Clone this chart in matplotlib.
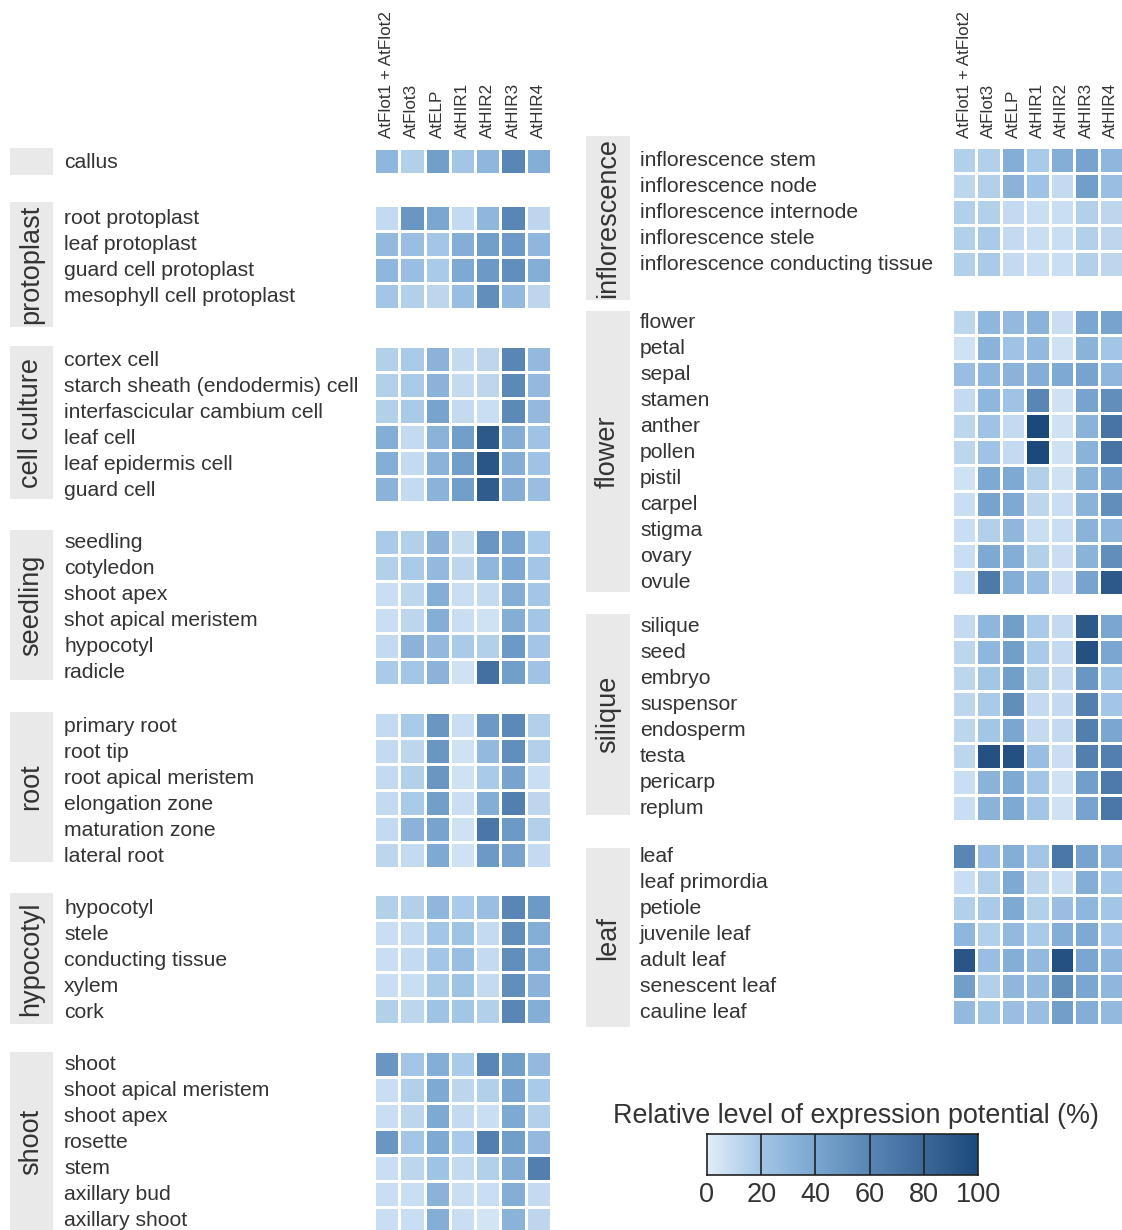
import matplotlib
matplotlib.use("Agg")
import matplotlib.pyplot as plt
import numpy as np
from matplotlib.colors import LinearSegmentedColormap
from matplotlib.patches import Rectangle
import matplotlib.transforms as mtransforms

plt.rcParams['font.family'] = ['Liberation Sans', 'DejaVu Sans']

genes = ["AtFlot1 + AtFlot2", "AtFlot3", "AtELP", "AtHIR1", "AtHIR2", "AtHIR3", "AtHIR4"]

# ---- left panel data ----
callus_rows = ["callus"]
callus_vals = [[30, 15, 45, 20, 30, 60, 35]]

protoplast_rows = ["root protoplast", "leaf protoplast", "guard cell protoplast", "mesophyll cell protoplast"]
protoplast_vals = [[10, 50, 40, 10, 30, 60, 12],
                   [28, 25, 20, 35, 45, 48, 30],
                   [30, 25, 18, 38, 48, 55, 35],
                   [20, 15, 12, 25, 55, 28, 12]]

cellculture_rows = ["cortex cell", "starch sheath (endodermis) cell", "interfascicular cambium cell",
                    "leaf cell", "leaf epidermis cell", "guard cell"]
cellculture_vals = [[15, 18, 32, 10, 12, 60, 28],
                    [15, 18, 32, 10, 12, 58, 28],
                    [15, 18, 42, 10, 8, 58, 28],
                    [35, 10, 32, 45, 90, 35, 22],
                    [35, 10, 32, 45, 92, 35, 22],
                    [32, 10, 32, 45, 88, 35, 25]]

seedling_rows = ["seedling", "cotyledon", "shoot apex", "shot apical meristem", "hypocotyl", "radicle"]
seedling_vals = [[18, 15, 32, 10, 50, 40, 18],
                 [15, 18, 28, 12, 30, 38, 20],
                 [8, 12, 35, 8, 10, 35, 20],
                 [8, 12, 35, 8, 6, 35, 20],
                 [10, 32, 28, 18, 15, 48, 20],
                 [18, 20, 32, 6, 75, 45, 22]]

root_rows = ["primary root", "root tip", "root apical meristem", "elongation zone", "maturation zone", "lateral root"]
root_vals = [[10, 18, 50, 8, 48, 58, 15],
             [10, 12, 50, 6, 28, 55, 15],
             [10, 15, 50, 6, 18, 42, 8],
             [10, 18, 45, 8, 35, 65, 12],
             [10, 32, 42, 6, 70, 48, 15],
             [12, 10, 38, 6, 48, 42, 10]]

hypocotyl_rows = ["hypocotyl", "stele", "conducting tissue", "xylem", "cork"]
hypocotyl_vals = [[15, 15, 30, 18, 25, 60, 48],
                  [8, 10, 20, 22, 10, 55, 35],
                  [8, 10, 20, 25, 10, 55, 35],
                  [8, 8, 18, 22, 10, 55, 32],
                  [15, 12, 22, 20, 15, 60, 35]]

shoot_rows = ["shoot", "shoot apical meristem", "shoot apex", "rosette", "stem", "axillary bud", "axillary shoot"]
shoot_vals = [[50, 20, 35, 18, 60, 45, 28],
              [8, 15, 38, 12, 15, 40, 18],
              [8, 12, 38, 10, 8, 38, 15],
              [50, 20, 38, 18, 65, 45, 28],
              [8, 12, 22, 10, 15, 35, 65],
              [8, 8, 32, 8, 8, 35, 10],
              [8, 8, 35, 8, 5, 32, 12]]

# ---- right panel data ----
inflor_rows = ["inflorescence stem", "inflorescence node", "inflorescence internode",
               "inflorescence stele", "inflorescence conducting tissue"]
inflor_vals = [[15, 15, 35, 18, 35, 42, 30],
               [12, 15, 32, 22, 10, 45, 25],
               [15, 15, 10, 8, 8, 15, 12],
               [15, 18, 10, 8, 8, 15, 12],
               [15, 18, 10, 8, 8, 15, 12]]

flower_rows = ["flower", "petal", "sepal", "stamen", "anther", "pollen", "pistil", "carpel",
               "stigma", "ovary", "ovule"]
flower_vals = [[12, 30, 28, 32, 8, 40, 42],
               [6, 32, 22, 28, 6, 32, 20],
               [25, 30, 32, 35, 38, 42, 30],
               [10, 30, 22, 60, 6, 42, 55],
               [12, 22, 10, 100, 6, 32, 72],
               [12, 22, 10, 100, 6, 32, 72],
               [6, 38, 38, 15, 6, 32, 42],
               [8, 42, 38, 12, 8, 32, 55],
               [8, 15, 30, 8, 8, 32, 30],
               [8, 38, 35, 15, 8, 32, 55],
               [8, 68, 35, 25, 8, 42, 90]]

silique_rows = ["silique", "seed", "embryo", "suspensor", "endosperm", "testa", "pericarp", "replum"]
silique_vals = [[10, 30, 45, 18, 10, 90, 40],
                [12, 30, 45, 18, 10, 95, 40],
                [12, 20, 45, 15, 10, 50, 22],
                [12, 18, 55, 10, 10, 65, 20],
                [12, 20, 40, 10, 10, 65, 40],
                [12, 95, 95, 25, 8, 65, 65],
                [8, 32, 38, 20, 6, 45, 68],
                [8, 32, 38, 20, 6, 42, 70]]

leaf_rows = ["leaf", "leaf primordia", "petiole", "juvenile leaf", "adult leaf", "senescent leaf", "cauline leaf"]
leaf_vals = [[60, 25, 35, 20, 70, 42, 30],
             [8, 15, 38, 12, 8, 35, 20],
             [15, 18, 38, 15, 25, 30, 20],
             [30, 15, 28, 18, 35, 38, 20],
             [92, 25, 35, 28, 95, 40, 30],
             [45, 15, 30, 28, 55, 40, 30],
             [28, 20, 25, 25, 45, 35, 28]]

legend_ticks = [0, 20, 40, 60, 80, 100]

cmap = LinearSegmentedColormap.from_list(
    "expr", [(0.0, "#e2eef9"), (0.2, "#a3c6e6"), (0.4, "#7aa6d1"),
             (0.6, "#5a86b5"), (0.8, "#3d6999"), (1.0, "#1c497b")])

W, H = 1122, 1230
fig = plt.figure(figsize=(W / 100, H / 100), dpi=100)
TXT = "#333333"


def fx(px):
    return px / W


def fy(py):
    return 1 - py / H


def draw_group(rows, vals, x0, x1, top, rowh, label_x, box, group_label, header=False):
    n = len(rows)
    ax = fig.add_axes([fx(x0), fy(top + n * rowh), fx(x1) - fx(x0), n * rowh / H])
    data = np.array(vals, dtype=float)
    ax.pcolormesh(np.arange(8), np.arange(n + 1), data, cmap=cmap, vmin=0, vmax=100,
                  edgecolors="white", linewidth=1.8)
    ax.set_xlim(0, 7)
    ax.set_ylim(n, 0)
    ax.axis("off")
    tr = mtransforms.blended_transform_factory(fig.transFigure, ax.transData)
    tr = mtransforms.offset_copy(tr, fig=fig, y=-1, units="dots")
    for i, r in enumerate(rows):
        ax.text(fx(label_x), i + 0.5, r, transform=tr, ha="left", va="center",
                fontsize=15.2, color=TXT)
    bx0, bx1, by0, by1 = box
    fig.patches.append(Rectangle((fx(bx0), fy(by1)), fx(bx1) - fx(bx0), (by1 - by0) / H,
                                 transform=fig.transFigure, facecolor="#e9e9e9",
                                 edgecolor="none", zorder=0))
    if group_label:
        fig.text(fx((bx0 + bx1) / 2), fy((by0 + by1) / 2), group_label, rotation=90,
                 ha="center", va="center", fontsize=19.5, color=TXT)
    if header:
        trh = mtransforms.blended_transform_factory(ax.transData, fig.transFigure)
        for j, g in enumerate(genes):
            ax.text(j + 0.5, fy(138), g, transform=trh, rotation=90, ha="center",
                    va="bottom", fontsize=12.3, color=TXT)
    return ax


LX0, LX1 = 374, 551
RX0, RX1 = 952, 1123

draw_group(callus_rows, callus_vals, LX0, LX1, 148, 26, 64, (10, 53, 148, 175), None, header=True)
draw_group(protoplast_rows, protoplast_vals, LX0, LX1, 205, 26, 64, (10, 53, 202, 327), "protoplast")
draw_group(cellculture_rows, cellculture_vals, LX0, LX1, 346, 26, 64, (10, 53, 346, 499), "cell culture")
draw_group(seedling_rows, seedling_vals, LX0, LX1, 529, 26, 64, (10, 53, 530, 680), "seedling")
draw_group(root_rows, root_vals, LX0, LX1, 712, 26, 64, (10, 53, 712, 862), "root")
draw_group(hypocotyl_rows, hypocotyl_vals, LX0, LX1, 894, 26, 64, (10, 53, 893, 1024), "hypocotyl")
draw_group(shoot_rows, shoot_vals, LX0, LX1, 1051, 26, 64, (10, 53, 1052, 1232), "shoot")

draw_group(inflor_rows, inflor_vals, RX0, RX1, 147, 26, 640, (586, 630, 136, 300), "inflorescence", header=True)
draw_group(flower_rows, flower_vals, RX0, RX1, 309, 26, 640, (586, 630, 311, 592), "flower")
draw_group(silique_rows, silique_vals, RX0, RX1, 613, 26, 640, (586, 630, 614, 815), "silique")
draw_group(leaf_rows, leaf_vals, RX0, RX1, 843, 26, 640, (586, 630, 848, 1027), "leaf")

# legend colorbar
cax = fig.add_axes([fx(707), fy(1175), fx(978) - fx(707), 41 / H])
grad = np.linspace(0, 100, 256).reshape(1, -1)
cax.imshow(grad, aspect="auto", cmap=cmap, vmin=0, vmax=100, extent=[0, 100, 0, 1])
for t in legend_ticks[1:-1]:
    cax.axvline(t, color="#222222", lw=1.2)
cax.set_xlim(0, 100)
cax.set_ylim(0, 1)
cax.set_yticks([])
cax.set_xticks(legend_ticks)
cax.set_xticklabels([str(t) for t in legend_ticks], fontsize=19.5, color=TXT)
cax.tick_params(axis="x", length=0, pad=5)
for s in cax.spines.values():
    s.set_color("#222222")
    s.set_linewidth(1.2)
fig.text(fx(856), fy(1116), "Relative level of expression potential (%)", ha="center",
         va="center", fontsize=19.4, color=TXT)

fig.savefig("out.png", dpi=100)
